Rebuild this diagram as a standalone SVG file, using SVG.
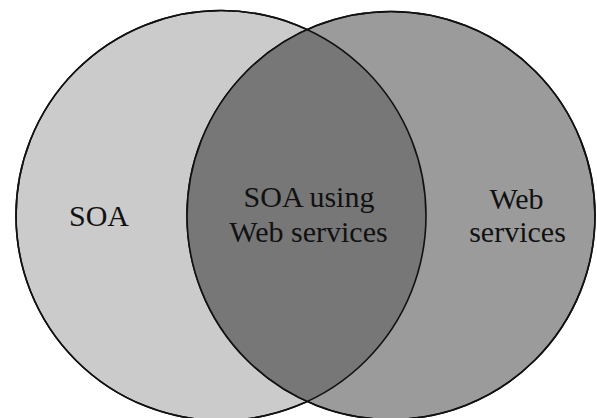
<svg xmlns="http://www.w3.org/2000/svg" width="597" height="418" viewBox="0 0 597 418">
<defs>
<style>
.c{stroke:#111;stroke-width:1.6}
.t{font-family:"Liberation Serif","Times New Roman",serif;font-size:30px;fill:#111;text-anchor:middle}
</style>
<clipPath id="clipL"><circle cx="221" cy="215.5" r="205"/></clipPath>
</defs>
<rect width="597" height="418" fill="#fff"/>
<g id="soa">
<circle class="c" cx="221" cy="215.5" r="205" fill="#cbcbcb"/>
</g>
<g id="web-services">
<circle class="c" cx="391" cy="215.5" r="204" fill="#9b9b9b"/>
</g>
<g id="intersection">
<circle cx="391" cy="215.5" r="204" fill="#777" clip-path="url(#clipL)"/>
<circle cx="221" cy="215.5" r="205" fill="none" class="c"/>
<circle cx="391" cy="215.5" r="204" fill="none" class="c"/>
</g>
<g id="labels">
<text class="t" x="99" y="226">SOA</text>
<text class="t" x="309" y="207">SOA using</text>
<text class="t" x="308.5" y="242">Web services</text>
<text class="t" x="516.5" y="208.5">Web</text>
<text class="t" x="517.5" y="242">services</text>
</g>
</svg>
